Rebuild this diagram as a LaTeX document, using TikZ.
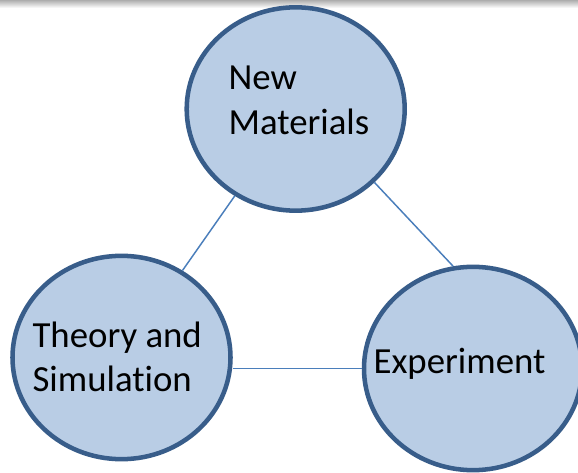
\documentclass[tikz,border=0pt]{standalone}
\usepackage{fontspec}
\setmainfont{Carlito}[Ligatures=CommonOff]
\usetikzlibrary{shapes.geometric}
\definecolor{cfill}{HTML}{B9CDE5}
\definecolor{cdraw}{HTML}{385D8A}
\definecolor{cline}{HTML}{4A7EBB}
\begin{document}
\begin{tikzpicture}[x=0.75pt,y=-0.75pt,
  bubble/.style={ellipse, draw=cdraw, fill=cfill, line width=3.4pt, inner sep=0pt,
    minimum width=163.5pt, minimum height=152.5pt},
  label/.style={anchor=base west, inner sep=0pt, font=\fontsize{27.6pt}{33.4pt}\selectfont, text=black},
  link/.style={draw=cline, line width=1.1pt}]
  \useasboundingbox[fill=white] (0,0) rectangle (578,473);
  \shade[top color=black!32, bottom color=white] (0,0) rectangle (578,8);

  \node[bubble] (newm) at (295.7,109) {};
  \node[bubble] (theory) at (121.5,357.5) {};
  \node[bubble] (exper) at (473,368.5) {};

  \node[label] (t1) at (228.3,90) {New};
  \node[label] (t2) at (228.3,135) {Materials};
  \node[label] (t3) at (32.3,347.3) {Theory and};
  \node[label] (t4) at (32.3,391.7) {Simulation};
  \node[label] (t5) at (373.3,373.3) {Experiment};

  \draw[link] (newm) -- (theory);
  \draw[link] (newm.-43) -- (exper.101);
  \draw[link] (theory.east |- exper.west) -- (exper.west);
\end{tikzpicture}
\end{document}
